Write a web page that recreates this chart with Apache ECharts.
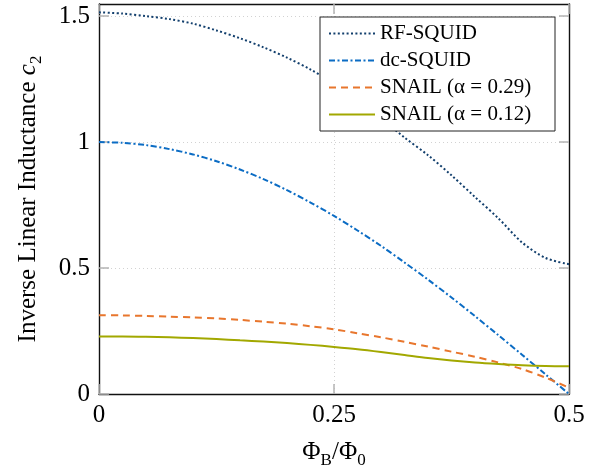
<!DOCTYPE html>
<html>
<head>
<meta charset="utf-8">
<script src="https://cdn.jsdelivr.net/npm/echarts@6/dist/echarts.min.js"></script>
<style>html,body{margin:0;padding:0;background:#fff}#c{width:606px;height:468px}</style>
</head>
<body>
<div id="c"></div>
<script>
const phi = [0,0.025,0.05,0.075,0.1,0.125,0.15,0.175,0.2,0.225,0.25,0.275,0.3,0.325,0.35,0.375,0.4,0.425,0.45,0.475,0.5];
const rfSquid = [1.515,1.510,1.500,1.488,1.470,1.443,1.412,1.376,1.335,1.288,1.232,1.168,1.095,1.018,0.948,0.868,0.782,0.697,0.602,0.540,0.515];
const dcSquid = [1.000,0.997,0.988,0.972,0.951,0.924,0.891,0.853,0.809,0.760,0.707,0.649,0.588,0.522,0.454,0.383,0.309,0.233,0.156,0.078,0.000];
const snail029 = [0.313,0.312,0.310,0.307,0.304,0.300,0.294,0.287,0.279,0.269,0.257,0.241,0.225,0.207,0.188,0.168,0.148,0.125,0.099,0.065,0.025];
const snail012 = [0.228,0.228,0.227,0.225,0.222,0.218,0.213,0.208,0.202,0.195,0.187,0.178,0.167,0.155,0.143,0.133,0.125,0.119,0.114,0.111,0.110];
const seriesNames = ['RF-SQUID','dc-SQUID','SNAIL (α = 0.29)','SNAIL (α = 0.12)'];
const xTicks = [0, 0.25, 0.5];
const yTicks = [0, 0.5, 1, 1.5];

const FONT = '"Liberation Serif", "DejaVu Serif", serif';
const pairs = (ys) => phi.map((x, i) => [x, ys[i]]);
const fmt = v => String(v);

const tickStyle = (vals) => ({show: true, inside: true, length: 10, customValues: vals, lineStyle: {color: '#b4b4b4', width: 1.5}});
const axisLineStyle = {show: true, onZero: false, lineStyle: {color: '#111', width: 1.4}};
const gridLine = {show: true, lineStyle: {color: '#d2d2d2', width: 1, type: [1, 3]}};

const chart = echarts.init(document.getElementById('c'), null, {renderer: 'canvas'});
chart.setOption({
  animation: false,
  backgroundColor: '#fff',
  grid: {left: 99, right: 37, top: 4, bottom: 74, containLabel: false, outerBoundsMode: 'none'},
  legend: {
    orient: 'vertical', left: 320, top: 17,
    itemWidth: 46, itemHeight: 12, itemGap: 6,
    padding: [6, 12, 6, 8],
    borderColor: '#222', borderWidth: 1, backgroundColor: '#fff',
    itemStyle: {opacity: 0},
    formatter: name => '{a|' + name + '}',
    textStyle: {fontFamily: FONT, fontSize: 21, color: '#000', lineHeight: 20,
      rich: {a: {fontFamily: FONT, fontSize: 21, color: '#000', lineHeight: 20, width: 163}}},
    data: seriesNames
  },
  xAxis: [{
    type: 'value', min: 0, max: 0.5, interval: 0.25, position: 'bottom',
    axisLine: axisLineStyle, axisTick: tickStyle(xTicks), splitLine: gridLine,
    axisLabel: {customValues: xTicks, formatter: fmt, fontFamily: FONT, fontSize: 25, color: '#000', margin: 9},
    name: '{n|Φ}{s|B}{n|/Φ}{s|0}', nameLocation: 'middle', nameGap: 41,
    nameTextStyle: {fontFamily: FONT, fontSize: 25, color: '#000',
      rich: {n: {fontFamily: FONT, fontSize: 25, lineHeight: 34, color: '#000'},
             s: {fontFamily: FONT, fontSize: 17, lineHeight: 17, verticalAlign: 'bottom', color: '#000'}}}
  }, {
    type: 'value', min: 0, max: 0.5, interval: 0.25, position: 'top',
    axisLine: axisLineStyle, axisTick: tickStyle(xTicks), splitLine: {show: false},
    axisLabel: {show: false}
  }],
  yAxis: [{
    type: 'value', min: 0, max: 1.548, interval: 0.5, position: 'left',
    axisLine: axisLineStyle, axisTick: tickStyle(yTicks), splitLine: gridLine,
    axisLabel: {customValues: yTicks, formatter: fmt, fontFamily: FONT, fontSize: 25, color: '#000', margin: 9},
    name: '{n|Inverse Linear Inductance }{i|c}{s|2}', nameLocation: 'middle', nameGap: 54,
    nameTextStyle: {fontFamily: FONT, fontSize: 25, color: '#000',
      rich: {n: {fontFamily: FONT, fontSize: 25, lineHeight: 34, color: '#000'},
             i: {fontFamily: FONT, fontSize: 25, lineHeight: 34, fontStyle: 'italic', color: '#000'},
             s: {fontFamily: FONT, fontSize: 17, lineHeight: 17, verticalAlign: 'bottom', color: '#000'}}}
  }, {
    type: 'value', min: 0, max: 1.548, interval: 0.5, position: 'right',
    axisLine: axisLineStyle, axisTick: tickStyle(yTicks), splitLine: {show: false},
    axisLabel: {show: false}
  }],
  series: [
    {name: seriesNames[0], type: 'line', data: pairs(rfSquid), showSymbol: false, symbol: 'none', smooth: 0.3,
     lineStyle: {color: '#123f6d', width: 2, type: [2, 2.4]}, itemStyle: {color: '#123f6d'}},
    {name: seriesNames[1], type: 'line', data: pairs(dcSquid), showSymbol: false, symbol: 'none', smooth: 0.3,
     lineStyle: {color: '#0b6cc4', width: 2, type: [6, 2.5, 2, 2.5]}, itemStyle: {color: '#0b6cc4'}},
    {name: seriesNames[2], type: 'line', data: pairs(snail029), showSymbol: false, symbol: 'none', smooth: 0.3,
     lineStyle: {color: '#e8762d', width: 2, type: [7, 5]}, itemStyle: {color: '#e8762d'}},
    {name: seriesNames[3], type: 'line', data: pairs(snail012), showSymbol: false, symbol: 'none', smooth: 0.3,
     lineStyle: {color: '#a2a800', width: 2}, itemStyle: {color: '#a2a800'}}
  ]
});
</script>
</body>
</html>
